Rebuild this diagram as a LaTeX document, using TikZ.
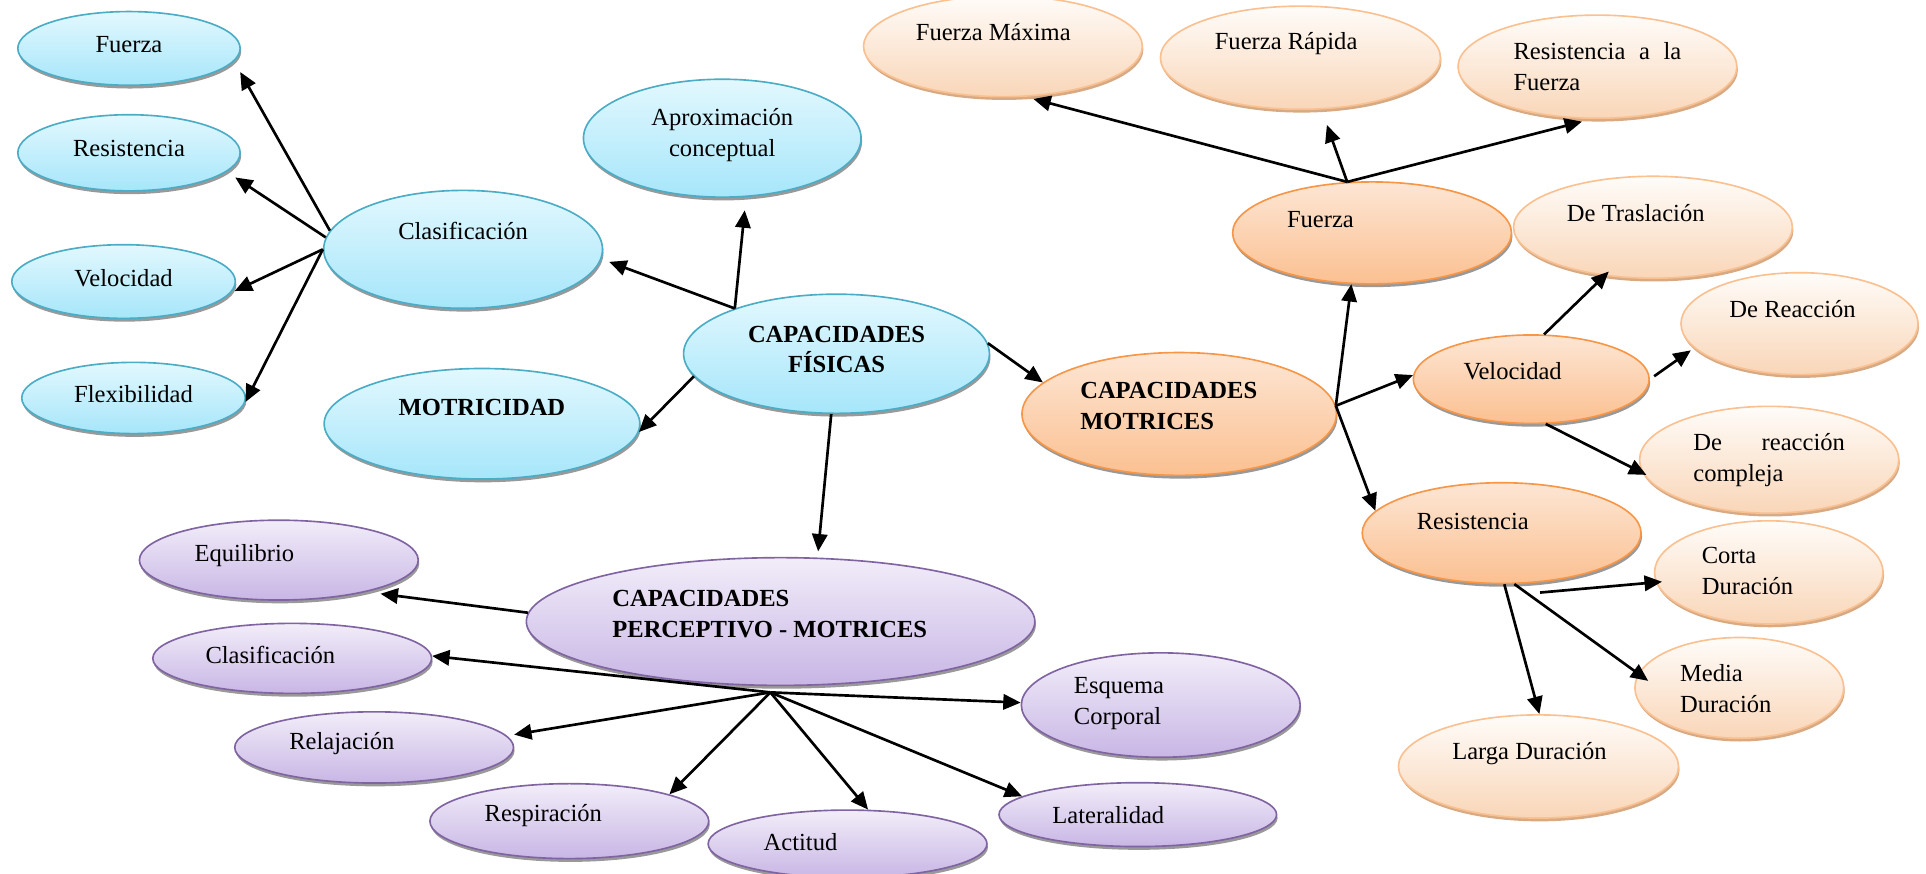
\documentclass[tikz,border=0pt]{standalone}
\usepackage{fontspec}
\setmainfont{Liberation Serif}
\usetikzlibrary{shapes.geometric,arrows.meta,shadows}

\definecolor{azulborde}{RGB}{75,172,198}
\definecolor{azularriba}{RGB}{226,248,254}
\definecolor{azulabajo}{RGB}{166,230,250}
\definecolor{naranjaborde}{RGB}{247,150,70}
\definecolor{naranjaarriba}{RGB}{253,230,212}
\definecolor{naranjaabajo}{RGB}{251,192,145}
\definecolor{claroborde}{RGB}{250,192,144}
\definecolor{claroarriba}{RGB}{255,252,249}
\definecolor{claroabajo}{RGB}{249,214,184}
\definecolor{clarosombra}{RGB}{214,170,132}
\definecolor{moradoborde}{RGB}{128,100,162}
\definecolor{moradoarriba}{RGB}{242,237,249}
\definecolor{moradoabajo}{RGB}{200,182,229}

\tikzset{
  bub/.style 2 args={ellipse, inner sep=0pt, line width=0.8pt,
    minimum width=#1*0.6pt, minimum height=#2*0.6pt},
  blub/.style 2 args={bub={#1}{#2}, draw=azulborde,
    top color=azularriba, bottom color=azulabajo,
    drop shadow={shadow xshift=0.5pt, shadow yshift=-1.6pt, fill=black!40, opacity=1}},
  orab/.style 2 args={bub={#1}{#2}, draw=naranjaborde,
    top color=naranjaarriba, bottom color=naranjaabajo,
    drop shadow={shadow xshift=0.5pt, shadow yshift=-1.6pt, fill=black!40, opacity=1}},
  palb/.style 2 args={bub={#1}{#2}, draw=claroborde,
    top color=claroarriba, bottom color=claroabajo,
    drop shadow={shadow xshift=0.5pt, shadow yshift=-1.6pt, fill=clarosombra, opacity=1}},
  purb/.style 2 args={bub={#1}{#2}, draw=moradoborde,
    top color=moradoarriba, bottom color=moradoabajo,
    drop shadow={shadow xshift=0.5pt, shadow yshift=-1.6pt, fill=black!40, opacity=1}},
  txt/.style={font=\fontsize{12}{15}\selectfont, align=center, inner sep=0pt},
  arr/.style={line width=1.3pt, -{Triangle[length=8.5pt,width=7.5pt]}}
}

\begin{document}
\begin{tikzpicture}[x=0.6pt,y=-0.6pt]
  \useasboundingbox (0,0) rectangle (1568,711);

  % capacidades fisicas
  \node[blub={249}{97}, label={[txt,font=\fontsize{12}{15}\selectfont\bfseries,yshift=2.1pt]center:{CAPACIDADES\\FÍSICAS}}] (capfis) at (681,288) {};
  \node[blub={226}{96}, label={[txt,yshift=1.5pt]center:{Aproximación\\conceptual}}] (aprox) at (588,112.5) {};
  \node[blub={227}{96}, label={[txt,yshift=9.1pt]center:Clasificación}] (clasb) at (377,203) {};
  \node[blub={257}{90}, label={[txt,font=\fontsize{12}{15}\selectfont\bfseries,yshift=8pt]center:MOTRICIDAD}] (motric) at (392.4,345) {};
  \node[blub={181}{60}, label={[txt,yshift=1.7pt]center:Fuerza}] (fuerzab) at (105,39.4) {};
  \node[blub={181}{62}, label={[txt,yshift=2.2pt]center:Resistencia}] (resb) at (105,124.4) {};
  \node[blub={182}{60}, label={[txt,yshift=1.6pt]center:Velocidad}] (velb) at (100.6,229.2) {};
  \node[blub={182}{58}, label={[txt,yshift=2pt]center:Flexibilidad}] (flexb) at (108.7,324) {};

  % capacidades motrices
  \node[orab={256}{100}, label={[txt,font=\fontsize{12}{15}\selectfont\bfseries,align=left,xshift=-5.1pt,yshift=4pt]center:{CAPACIDADES\\MOTRICES}}] (capmot) at (960,337) {};
  \node[orab={227}{83}, label={[txt,xshift=-25.2pt,yshift=6.6pt]center:Fuerza}] (fuerzao) at (1117,189.6) {};
  \node[orab={192}{72}, label={[txt,xshift=-9.1pt,yshift=4.1pt]center:Velocidad}] (velo) at (1246.6,308.7) {};
  \node[orab={227}{82}, label={[txt,xshift=-14.1pt,yshift=5.9pt]center:Resistencia}] (reso) at (1222.5,434) {};

  \node[palb={227}{82}, label={[txt,xshift=-4.7pt,yshift=6.8pt]center:Fuerza Máxima}] (fmax) at (816.5,37.7) {};
  \node[palb={228}{84}, label={[txt,xshift=-7pt,yshift=7pt]center:Fuerza Rápida}] (frap) at (1058.7,47) {};
  \node[palb={227}{84}, label={[txt,align=left,text width=82pt]center:{Resistencia\hfill a\hfill la\\Fuerza}}] (raf) at (1300.5,54.3) {};
  \node[palb={227}{83}, label={[txt,xshift=-8.4pt,yshift=6.8pt]center:De Traslación}] (detras) at (1345.7,185) {};
  \node[palb={193}{83}, label={[txt,xshift=-3.4pt,yshift=7pt]center:De Reacción}] (dereac) at (1465,263.5) {};
  \node[palb={211}{87}, label={[txt,align=left,text width=74pt]center:{De\hfill reacción\\compleja}}] (drc) at (1440.3,374.3) {};
  \node[palb={186}{84}, label={[txt,align=left,xshift=-10.4pt,yshift=0.8pt]center:{Corta\\Duración}}] (corta) at (1440,466) {};
  \node[palb={170}{82}, label={[txt,align=left,xshift=-6.6pt,yshift=-0.5pt]center:{Media\\Duración}}] (media) at (1416,560) {};
  \node[palb={228}{84}, label={[txt,xshift=-4.4pt,yshift=6.4pt]center:Larga Duración}] (larga) at (1252.5,624) {};

  % capacidades perceptivo - motrices
  \node[purb={414}{104}, label={[txt,font=\fontsize{12}{15}\selectfont\bfseries,align=left,xshift=-5.3pt,yshift=3.8pt]center:{CAPACIDADES\\PERCEPTIVO - MOTRICES}}] (capper) at (635.5,506) {};
  \node[purb={227}{65}, label={[txt,xshift=-16.8pt,yshift=2.4pt]center:Equilibrio}] (equil) at (227,456) {};
  \node[purb={227}{57}, label={[txt,xshift=-10.7pt,yshift=1.6pt]center:Clasificación}] (clasp) at (237.9,536) {};
  \node[purb={227}{58}, label={[txt,xshift=-15.8pt,yshift=2pt]center:Relajación}] (relaj) at (304.6,608.5) {};
  \node[purb={227}{61}, label={[txt,xshift=-12.7pt,yshift=2.5pt]center:Respiración}] (resp) at (463.5,668.5) {};
  \node[purb={227}{55}, label={[txt,xshift=-23pt,yshift=1.1pt]center:Actitud}] (actit) at (690,687) {};
  \node[purb={227}{85}, label={[txt,align=left,xshift=-20.4pt,yshift=0.6pt]center:{Esquema\\Corporal}}] (esq) at (945,574) {};
  \node[purb={226}{52}, label={[txt,xshift=-14.4pt]center:Lateralidad}] (lat) at (926.3,663.2) {};

  % flechas fisicas
  \draw[arr, shorten >=4pt] (capfis.156) -- (clasb.-4);
  \draw[arr, shorten >=6.5pt] (capfis.156) -- (aprox.-68);
  \draw[arr] (capfis.189) -- (motric.-3);
  \draw[arr] (capfis.4) -- (capmot.167);
  \draw[arr, shorten >=3pt] (capfis.-95) -- (capper.60);
  \draw[arr, shorten >=6pt] (clasb.172) -- (fuerzab.-7);
  \draw[arr, shorten >=5pt] (clasb.175) -- (resb.-11);
  \draw[arr, shorten >=2pt] (clasb.west) -- (velb.-6);
  \draw[arr, shorten >=2pt] (clasb.west) -- (flexb.-4);

  % flechas motrices
  \draw[arr] (capmot.3) -- (fuerzao.-112);
  \draw[arr] (capmot.3) -- (velo.178);
  \draw[arr] (capmot.3) -- (reso.170);
  \draw[arr, shorten >=4pt] (fuerzao.116) -- (fmax.-66);
  \draw[arr, shorten >=8pt] (fuerzao.116) -- (frap.-68);
  \draw[arr, shorten >=5pt] (fuerzao.116) -- (raf.-96);
  \draw[arr, shorten >=-3pt] (velo.74) -- (detras.-135);
  \draw[arr, shorten <=2.5pt, shorten >=2pt] (velo.east) -- (dereac.-167);
  \draw[arr, shorten >=-2pt] (velo.-72) -- (drc.-174);
  \coordinate (rshub) at ([yshift=-5pt]reso.-52);
  \draw[arr, shorten >=-3pt] (rshub) -- (corta.-175);
  \draw[arr, shorten >=-6pt] (reso.-76) -- (media.172);
  \draw[arr] (reso.-87) -- (larga.89);

  % flechas perceptivo - motrices
  \coordinate (cphub) at ([xshift=-5pt,yshift=-3pt]capper.south);
  \draw[arr, shorten >=7pt] (capper.178) -- (equil.-20);
  \draw[arr] (cphub) -- (clasp.1);
  \draw[arr, shorten >=3.5pt] (cphub) -- (relaj.5);
  \draw[arr] (cphub) -- (resp.15);
  \draw[arr] (cphub) -- (actit.59);
  \draw[arr] (cphub) -- (esq.179);
  \draw[arr] (cphub) -- (lat.171);
\end{tikzpicture}
\end{document}
